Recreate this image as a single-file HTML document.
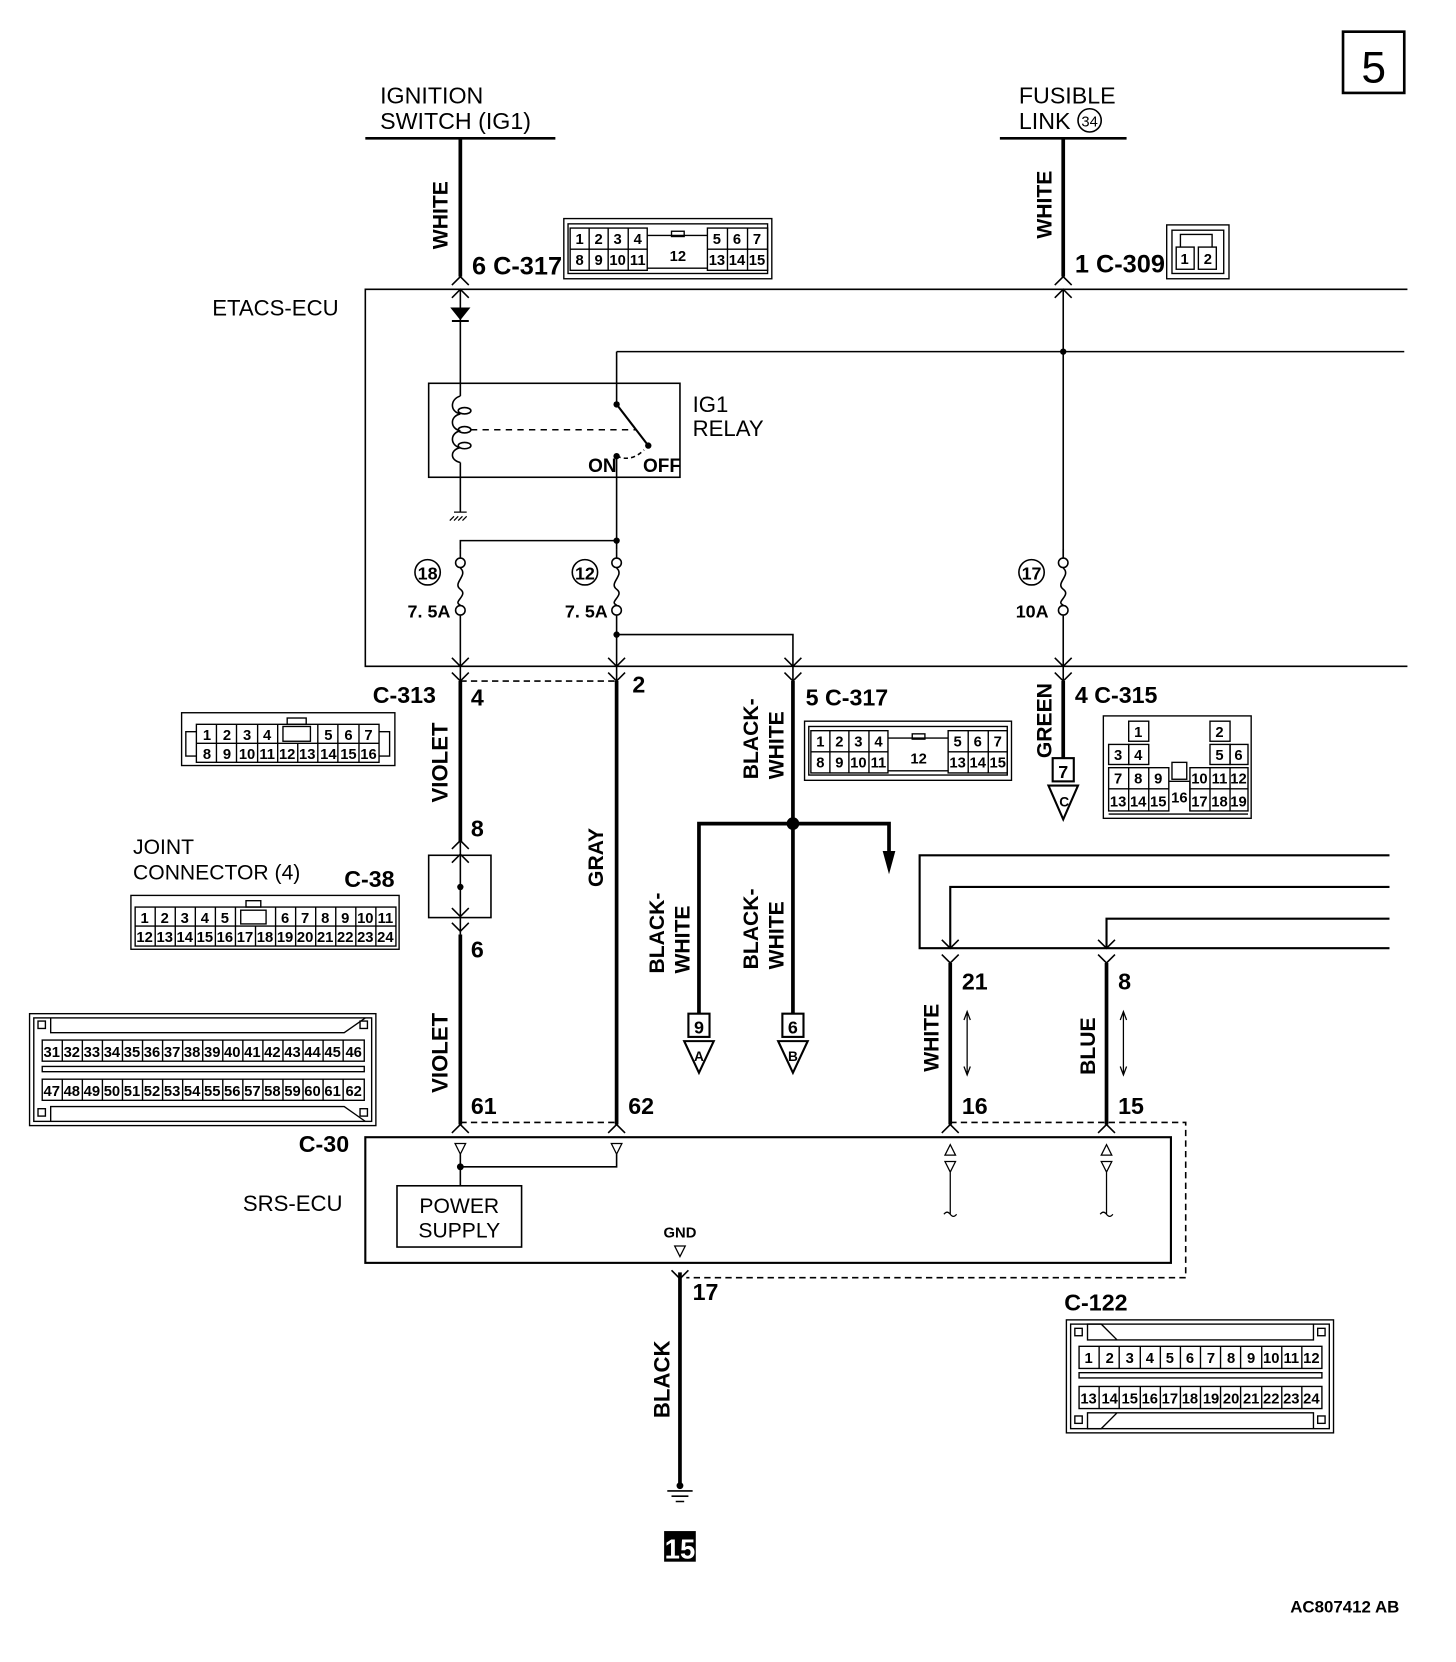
<!DOCTYPE html>
<html><head><meta charset="utf-8"><style>
html,body{margin:0;padding:0;background:#fff;}
svg{display:block;}
text{font-family:"Liberation Sans Narrow","Liberation Sans",sans-serif;fill:#000;}
.b{font-weight:bold;}
.n{font-family:"Liberation Sans Narrow","Liberation Sans",sans-serif;font-weight:bold;font-size:14px;text-anchor:middle;}
.r{font-family:"Liberation Sans",sans-serif;font-weight:normal;}
</style></head><body>
<svg width="1456" height="1662" viewBox="0 0 1379 1574" preserveAspectRatio="none" xmlns="http://www.w3.org/2000/svg">
<g fill="none" stroke="#000" stroke-width="1.5">
<!-- box 5 -->
<rect x="1272" y="30" width="58" height="58" stroke-width="2.5"/>
<!-- top source lines -->
<line x1="346" y1="131" x2="526" y2="131" stroke-width="2.5"/>
<line x1="947" y1="131" x2="1067" y2="131" stroke-width="2.5"/>
<line x1="436" y1="131" x2="436" y2="262" stroke-width="3.5"/>
<line x1="1007" y1="131" x2="1007" y2="262" stroke-width="3.5"/>
<!-- connector marks top -->
<path d="M428,270 L436,262 L444,270 M428,282 L436,274 L444,282"/>
<path d="M999,270 L1007,262 L1015,270 M999,282 L1007,274 L1015,282"/>
<!-- ETACS box -->
<path d="M1333,274 H346 V631 H1333"/>
<!-- diode -->
<line x1="436" y1="274" x2="436" y2="363"/>
<path d="M428,292 H444 L436,302 Z" fill="#000"/>
<line x1="428" y1="304" x2="444" y2="304" stroke-width="2"/>
<!-- relay box -->
<rect x="406" y="363" width="238" height="89"/>
<path d="M436,375 C426,378 426,390 436,392 C426,394 426,406 436,408 C426,410 426,422 436,424 C426,426 426,436 436,438" />
<ellipse cx="440" cy="389" rx="6" ry="3"/><ellipse cx="440" cy="407" rx="6" ry="3"/><ellipse cx="440" cy="422" rx="6" ry="3"/>
<line x1="436" y1="363" x2="436" y2="375"/>
<line x1="436" y1="438" x2="436" y2="485"/>
<path d="M430,485 H442 M430,489 L426,493 M434,489 L430,493 M438,489 L434,493 M442,489 L438,493" stroke-width="1.2"/>
<line x1="446" y1="407" x2="603" y2="407" stroke-dasharray="6,5"/>
<line x1="584" y1="333" x2="584" y2="383"/>
<line x1="1330" y1="333" x2="584" y2="333"/>
<line x1="584" y1="383" x2="614" y2="422" stroke-width="2"/>
<path d="M584,432 Q598,438 610,426" stroke-dasharray="4,3"/>
<line x1="584" y1="432" x2="584" y2="520"/>
<!-- right wire -->
<line x1="1007" y1="274" x2="1007" y2="530"/>
<!-- junction to 18 -->
<path d="M436,520 V512 H584"/>
<!-- fuses -->
<g id="f">
<circle cx="436" cy="533" r="4.5" fill="#fff"/>
<path d="M436,538 C444,545 428,552 436,558 C444,564 428,570 436,573"/>
<circle cx="436" cy="578" r="4.5" fill="#fff"/>
</g>
<use href="#f" x="148"/>
<use href="#f" x="571"/>
<line x1="436" y1="520" x2="436" y2="528"/>
<line x1="584" y1="520" x2="584" y2="528"/>
<line x1="1007" y1="520" x2="1007" y2="528"/>
<line x1="436" y1="583" x2="436" y2="645"/>
<line x1="584" y1="583" x2="584" y2="645"/>
<line x1="1007" y1="583" x2="1007" y2="645"/>
<path d="M584,601 H751 V645"/>
<!-- connector marks at 631 -->
<path d="M428,623 L436,631 L444,623 M428,637 L436,645 L444,637"/>
<path d="M576,623 L584,631 L592,623 M576,637 L584,645 L592,637"/>
<path d="M743,623 L751,631 L759,623 M743,637 L751,645 L759,637"/>
<path d="M999,623 L1007,631 L1015,623 M999,637 L1007,645 L1015,637"/>
<line x1="436" y1="645" x2="584" y2="645" stroke-dasharray="6,4"/>
<!-- thick wires -->
<line x1="436" y1="645" x2="436" y2="798" stroke-width="3.5"/>
<line x1="436" y1="885" x2="436" y2="1065" stroke-width="3.5"/>
<line x1="584" y1="645" x2="584" y2="1065" stroke-width="3.5"/>
<line x1="751" y1="645" x2="751" y2="960" stroke-width="3.5"/>
<path d="M662,960 V780 H842 V808" stroke-width="3.5"/>
<line x1="1007" y1="645" x2="1007" y2="718" stroke-width="3.5"/>
<!-- joint connector -->
<rect x="406" y="810" width="59" height="59"/>
<line x1="436" y1="798" x2="436" y2="885"/>
<path d="M428,804 L436,796 L444,804 M428,817 L436,809 L444,817 M428,860 L436,868 L444,860 M428,874 L436,882 L444,874"/>
<!-- boxes 9 6 7 -->
<rect x="652" y="960" width="20" height="22" stroke-width="2"/>
<rect x="741" y="960" width="20" height="22" stroke-width="2"/>
<rect x="997" y="718" width="20" height="22" stroke-width="2"/>
<path d="M648,986 H676 L662,1016 Z" stroke-width="2"/>
<path d="M737,986 H765 L751,1016 Z" stroke-width="2"/>
<path d="M993,744 H1021 L1007,776 Z" stroke-width="2"/>
<!-- bundle -->
<path d="M1316,810 H871 V898 H1316" stroke-width="2"/>
<path d="M1316,840 H900 V898" stroke-width="2"/>
<path d="M1316,870 H1048 V898" stroke-width="2"/>
<path d="M892,890 L900,898 L908,890 M892,904 L900,912 L908,904"/>
<path d="M1040,890 L1048,898 L1056,890 M1040,904 L1048,912 L1056,904"/>
<line x1="900" y1="912" x2="900" y2="1065" stroke-width="3.5"/>
<line x1="1048" y1="912" x2="1048" y2="1065" stroke-width="3.5"/>
<path d="M916,960 V1016 M913,966 L916,958 L919,966 M913,1010 L916,1018 L919,1010" stroke-width="1.2"/>
<path d="M1064,960 V1016 M1061,966 L1064,958 L1067,966 M1061,1010 L1064,1018 L1067,1010" stroke-width="1.2"/>
<!-- lower connector marks -->
<path d="M428,1073 L436,1065 L444,1073 M576,1073 L584,1065 L592,1073 M892,1073 L900,1065 L908,1073 M1040,1073 L1048,1065 L1056,1073"/>
<path d="M436,1063 H584 M900,1063 H1123 V1210 H650" stroke-dasharray="6,4"/>
<!-- SRS box -->
<rect x="346" y="1077" width="763" height="119" stroke-width="2"/>
<path d="M431,1083 H441 L436,1093 Z M579,1083 H589 L584,1093 Z M639,1180 H649 L644,1190 Z" stroke-width="1.2"/>
<path d="M436,1093 V1123 M436,1105 H584 V1093"/>
<circle cx="436" cy="1105" r="2.5" fill="#000"/>
<rect x="376" y="1123" width="118" height="58"/>
<path d="M900,1084 L895,1094 H905 Z M895,1100 H905 L900,1110 Z M900,1110 V1150 M894,1150 Q897,1146 900,1150 Q903,1154 906,1150" stroke-width="1.2"/>
<path d="M1048,1084 L1043,1094 H1053 Z M1043,1100 H1053 L1048,1110 Z M1048,1110 V1150 M1042,1150 Q1045,1146 1048,1150 Q1051,1154 1054,1150" stroke-width="1.2"/>
<!-- ground -->
<path d="M636,1203 L644,1211 L652,1203"/>
<line x1="644" y1="1205" x2="644" y2="1405" stroke-width="3.5"/>
<path d="M632,1412 H656 M636,1417 H652 M640,1422 H648"/>
<circle cx="644" cy="1407" r="2.5" fill="#000"/>
</g>
<!-- dots & arrows -->
<g fill="#000">
<circle cx="1007" cy="333" r="3"/>
<circle cx="584" cy="383" r="3"/><circle cx="614" cy="422" r="3"/><circle cx="584" cy="432" r="3"/>
<circle cx="584" cy="512" r="3"/><circle cx="584" cy="601" r="3"/>
<circle cx="751" cy="780" r="6"/>
<circle cx="436" cy="840" r="3"/>
<path d="M836,806 H848 L842,828 Z"/>
<rect x="629" y="1450" width="30" height="29"/>
</g>
<!-- texts -->
<text x="1301" y="78" class="r" font-size="42" text-anchor="middle">5</text>
<text x="360" y="98" class="r" font-size="22">IGNITION</text>
<text x="360" y="122" class="r" font-size="22">SWITCH (IG1)</text>
<text x="965" y="98" class="r" font-size="22">FUSIBLE</text>
<text x="965" y="122" class="r" font-size="22">LINK</text>
<circle cx="1032" cy="114" r="11" fill="none" stroke="#000" stroke-width="1.5"/>
<text x="1032" y="120" class="r" font-size="14" text-anchor="middle">34</text>
<text x="201" y="299" class="r" font-size="21">ETACS-ECU</text>
<text x="656" y="390" class="r" font-size="21">IG1</text>
<text x="656" y="413" class="r" font-size="21">RELAY</text>
<text x="557" y="447" class="b" font-size="18">ON</text>
<text x="609" y="447" class="b" font-size="18">OFF</text>
<text x="447" y="260" class="b" font-size="24">6 C-317</text>
<text x="1018" y="258" class="b" font-size="24">1 C-309</text>
<text transform="translate(424,236) rotate(-90)" class="b" font-size="20">WHITE</text>
<text transform="translate(996,226) rotate(-90)" class="b" font-size="20">WHITE</text>
<g fill="none" stroke="#000" stroke-width="1.5"><circle cx="405" cy="542" r="12"/><circle cx="554" cy="542" r="12"/><circle cx="977" cy="542" r="12"/></g>
<text x="405" y="549" class="b" font-size="17" text-anchor="middle">18</text>
<text x="554" y="549" class="b" font-size="17" text-anchor="middle">12</text>
<text x="977" y="549" class="b" font-size="17" text-anchor="middle">17</text>
<text x="386" y="585" class="b" font-size="17">7. 5A</text>
<text x="535" y="585" class="b" font-size="17">7. 5A</text>
<text x="962" y="585" class="b" font-size="17">10A</text>
<text x="353" y="666" class="b" font-size="22">C-313</text>
<text x="446" y="668" class="b" font-size="22">4</text>
<text x="599" y="656" class="b" font-size="22">2</text>
<text x="763" y="668" class="b" font-size="22">5 C-317</text>
<text x="1018" y="666" class="b" font-size="22">4 C-315</text>
<text transform="translate(424,760) rotate(-90)" class="b" font-size="21">VIOLET</text>
<text transform="translate(424,1035) rotate(-90)" class="b" font-size="21">VIOLET</text>
<text transform="translate(571,840) rotate(-90)" class="b" font-size="20">GRAY</text>
<text transform="translate(718,738) rotate(-90)" class="b" font-size="20">BLACK-</text>
<text transform="translate(742,738) rotate(-90)" class="b" font-size="20">WHITE</text>
<text transform="translate(629,922) rotate(-90)" class="b" font-size="20">BLACK-</text>
<text transform="translate(653,922) rotate(-90)" class="b" font-size="20">WHITE</text>
<text transform="translate(718,918) rotate(-90)" class="b" font-size="20">BLACK-</text>
<text transform="translate(742,918) rotate(-90)" class="b" font-size="20">WHITE</text>
<text transform="translate(996,718) rotate(-90)" class="b" font-size="20">GREEN</text>
<text transform="translate(889,1015) rotate(-90)" class="b" font-size="20">WHITE</text>
<text transform="translate(1037,1018) rotate(-90)" class="b" font-size="20">BLUE</text>
<text x="446" y="792" class="b" font-size="22">8</text>
<text x="446" y="907" class="b" font-size="22">6</text>
<text x="662" y="979" class="b" font-size="17" text-anchor="middle">9</text>
<text x="751" y="979" class="b" font-size="17" text-anchor="middle">6</text>
<text x="1007" y="737" class="b" font-size="17" text-anchor="middle">7</text>
<text x="662" y="1005" class="b" font-size="13" text-anchor="middle">A</text>
<text x="751" y="1005" class="b" font-size="13" text-anchor="middle">B</text>
<text x="1008" y="764" class="b" font-size="13" text-anchor="middle">C</text>
<text x="911" y="937" class="b" font-size="22">21</text>
<text x="1059" y="937" class="b" font-size="22">8</text>
<text x="446" y="1055" class="b" font-size="22">61</text>
<text x="595" y="1055" class="b" font-size="22">62</text>
<text x="911" y="1055" class="b" font-size="22">16</text>
<text x="1059" y="1055" class="b" font-size="22">15</text>
<text x="283" y="1091" class="b" font-size="22">C-30</text>
<text x="230" y="1147" class="r" font-size="21">SRS-ECU</text>
<text x="435" y="1149" class="r" font-size="20" text-anchor="middle">POWER</text>
<text x="435" y="1172" class="r" font-size="20" text-anchor="middle">SUPPLY</text>
<text x="644" y="1172" class="b" font-size="14" text-anchor="middle">GND</text>
<text x="656" y="1231" class="b" font-size="22">17</text>
<text transform="translate(634,1343) rotate(-90)" class="b" font-size="21">BLACK</text>
<text x="644" y="1476" class="b" font-size="26" text-anchor="middle" style="fill:#fff">15</text>
<text x="1008" y="1241" class="b" font-size="22">C-122</text>
<text x="126" y="809" class="r" font-size="20">JOINT</text>
<text x="126" y="833" class="r" font-size="20">CONNECTOR (4)</text>
<text x="326" y="840" class="b" font-size="22">C-38</text>
<text x="1222" y="1527" font-family="Liberation Sans" font-weight="bold" font-size="16">AC807412 AB</text>

<!-- Connector C-317 top -->
<g fill="none" stroke="#000" stroke-width="1.3">
<rect x="534" y="207" width="197" height="57"/>
<rect x="538" y="212" width="189" height="47"/>
<path d="M540,216 H613 V256 H540 Z M540,236 H613 M558,216 V256 M576,216 V256 M595,216 V256"/>
<path d="M670,216 H727 V256 H670 Z M670,236 H727 M689,216 V256 M708,216 V256"/>
<path d="M613,223 H670 M613,254 H670"/>
<rect x="636" y="219" width="12" height="5"/>
</g>
<g class="n"><text class="n" x="549" y="231">1</text><text class="n" x="567" y="231">2</text><text class="n" x="585" y="231">3</text><text class="n" x="604" y="231">4</text><text class="n" x="679" y="231">5</text><text class="n" x="698" y="231">6</text><text class="n" x="717" y="231">7</text>
<text class="n" x="549" y="251">8</text><text class="n" x="567" y="251">9</text><text class="n" x="585" y="251">10</text><text class="n" x="604" y="251">11</text><text class="n" x="642" y="247">12</text><text class="n" x="679" y="251">13</text><text class="n" x="698" y="251">14</text><text class="n" x="717" y="251">15</text></g>

<!-- Connector C-317 lower -->
<g fill="none" stroke="#000" stroke-width="1.3">
<rect x="762" y="683" width="196" height="56"/>
<rect x="766" y="688" width="188" height="46"/>
<path d="M768,692 H841 V732 H768 Z M768,712 H841 M786,692 V732 M804,692 V732 M823,692 V732"/>
<path d="M898,692 H954 V732 H898 Z M898,712 H954 M917,692 V732 M936,692 V732"/>
<path d="M841,699 H898 M841,730 H898"/>
<rect x="864" y="695" width="12" height="5"/>
</g>
<text class="n" x="777" y="707">1</text><text class="n" x="795" y="707">2</text><text class="n" x="813" y="707">3</text><text class="n" x="832" y="707">4</text><text class="n" x="907" y="707">5</text><text class="n" x="926" y="707">6</text><text class="n" x="945" y="707">7</text>
<text class="n" x="777" y="727">8</text><text class="n" x="795" y="727">9</text><text class="n" x="813" y="727">10</text><text class="n" x="832" y="727">11</text><text class="n" x="870" y="723">12</text><text class="n" x="907" y="727">13</text><text class="n" x="926" y="727">14</text><text class="n" x="945" y="727">15</text>

<!-- C-309 -->
<g fill="none" stroke="#000" stroke-width="1.3">
<rect x="1105" y="213" width="59" height="51"/>
<rect x="1110" y="218" width="49" height="41"/>
<rect x="1114" y="234" width="17" height="21"/><rect x="1135" y="234" width="17" height="21"/>
<path d="M1118,234 V222 H1148 V234"/>
</g>
<text class="n" x="1122" y="250">1</text><text class="n" x="1144" y="250">2</text>

<!-- C-313 -->
<g fill="none" stroke="#000" stroke-width="1.3">
<rect x="172" y="675" width="202" height="50"/>
<path d="M186,686 H359 V722 H186 Z M186,704 H359"/>
<path d="M205,686 V722 M224,686 V722 M244,686 V722 M263,686 V704 M263,704 V722 M282,704 V722 M301,686 V722 M320,686 V722 M340,686 V722"/>
<rect x="268" y="688" width="26" height="14"/>
<rect x="272" y="680" width="18" height="6"/>
<path d="M186,693 H176 V716 H186 M359,693 H369 V716 H359"/>
</g>
<text class="n" x="196" y="701">1</text><text class="n" x="215" y="701">2</text><text class="n" x="234" y="701">3</text><text class="n" x="253" y="701">4</text><text class="n" x="311" y="701">5</text><text class="n" x="330" y="701">6</text><text class="n" x="349" y="701">7</text>
<text class="n" x="196" y="719">8</text><text class="n" x="215" y="719">9</text><text class="n" x="234" y="719">10</text><text class="n" x="253" y="719">11</text><text class="n" x="272" y="719">12</text><text class="n" x="291" y="719">13</text><text class="n" x="311" y="719">14</text><text class="n" x="330" y="719">15</text><text class="n" x="349" y="719">16</text>

<!-- C-38 -->
<g fill="none" stroke="#000" stroke-width="1.3">
<rect x="124" y="848" width="254" height="51"/>
<path d="M128,859 H375 V896 H128 Z M128,877 H375"/>
<path d="M147,859 V896 M166,859 V896 M185,859 V896 M204,859 V896 M223,859 V896 M242,877 V896 M261,859 V896 M280,859 V896 M299,859 V896 M318,859 V896 M337,859 V896 M356,859 V896"/>
<rect x="228" y="862" width="24" height="13"/>
<rect x="233" y="853" width="14" height="6"/>
</g>
<text class="n" x="137" y="874">1</text><text class="n" x="156" y="874">2</text><text class="n" x="175" y="874">3</text><text class="n" x="194" y="874">4</text><text class="n" x="213" y="874">5</text><text class="n" x="270" y="874">6</text><text class="n" x="289" y="874">7</text><text class="n" x="308" y="874">8</text><text class="n" x="327" y="874">9</text><text class="n" x="346" y="874">10</text><text class="n" x="365" y="874">11</text>
<text class="n" x="137" y="892">12</text><text class="n" x="156" y="892">13</text><text class="n" x="175" y="892">14</text><text class="n" x="194" y="892">15</text><text class="n" x="213" y="892">16</text><text class="n" x="232" y="892">17</text><text class="n" x="251" y="892">18</text><text class="n" x="270" y="892">19</text><text class="n" x="289" y="892">20</text><text class="n" x="308" y="892">21</text><text class="n" x="327" y="892">22</text><text class="n" x="346" y="892">23</text><text class="n" x="365" y="892">24</text>

<!-- C-30 -->
<g fill="none" stroke="#000" stroke-width="1.3">
<rect x="28" y="960" width="328" height="106"/>
<rect x="32" y="964" width="320" height="98"/>
<rect x="36" y="967" width="7" height="7"/><rect x="341" y="967" width="7" height="7"/>
<rect x="36" y="1050" width="7" height="7"/><rect x="341" y="1050" width="7" height="7"/>
<path d="M48,964 V978 H326 L346,964 M48,1062 V1048 H326 L346,1062"/>
<path d="M40,985 H345 V1005 H40 Z M40,1022 H345 V1042 H40 Z M40,1010 H345 V1015 H40 Z"/>
<path d="M59,985 V1005 M78,985 V1005 M97,985 V1005 M116,985 V1005 M135,985 V1005 M154,985 V1005 M173,985 V1005 M192,985 V1005 M211,985 V1005 M230,985 V1005 M249,985 V1005 M268,985 V1005 M287,985 V1005 M306,985 V1005 M325,985 V1005"/>
<path d="M59,1022 V1042 M78,1022 V1042 M97,1022 V1042 M116,1022 V1042 M135,1022 V1042 M154,1022 V1042 M173,1022 V1042 M192,1022 V1042 M211,1022 V1042 M230,1022 V1042 M249,1022 V1042 M268,1022 V1042 M287,1022 V1042 M306,1022 V1042 M325,1022 V1042"/>
</g>
<text class="n" x="49" y="1001">31</text><text class="n" x="68" y="1001">32</text><text class="n" x="87" y="1001">33</text><text class="n" x="106" y="1001">34</text><text class="n" x="125" y="1001">35</text><text class="n" x="144" y="1001">36</text><text class="n" x="163" y="1001">37</text><text class="n" x="182" y="1001">38</text><text class="n" x="201" y="1001">39</text><text class="n" x="220" y="1001">40</text><text class="n" x="239" y="1001">41</text><text class="n" x="258" y="1001">42</text><text class="n" x="277" y="1001">43</text><text class="n" x="296" y="1001">44</text><text class="n" x="315" y="1001">45</text><text class="n" x="335" y="1001">46</text>
<text class="n" x="49" y="1038">47</text><text class="n" x="68" y="1038">48</text><text class="n" x="87" y="1038">49</text><text class="n" x="106" y="1038">50</text><text class="n" x="125" y="1038">51</text><text class="n" x="144" y="1038">52</text><text class="n" x="163" y="1038">53</text><text class="n" x="182" y="1038">54</text><text class="n" x="201" y="1038">55</text><text class="n" x="220" y="1038">56</text><text class="n" x="239" y="1038">57</text><text class="n" x="258" y="1038">58</text><text class="n" x="277" y="1038">59</text><text class="n" x="296" y="1038">60</text><text class="n" x="315" y="1038">61</text><text class="n" x="335" y="1038">62</text>

<!-- C-315 -->
<g fill="none" stroke="#000" stroke-width="1.3">
<rect x="1045" y="678" width="140" height="97"/>
<rect x="1069" y="683" width="19" height="19"/><rect x="1146" y="683" width="19" height="19"/>
<rect x="1050" y="705" width="19" height="19"/><rect x="1069" y="705" width="19" height="19"/><rect x="1146" y="705" width="19" height="19"/><rect x="1165" y="705" width="17" height="19"/>
<path d="M1050,727 H1107 V768 H1050 Z M1050,747 H1107 M1069,727 V768 M1088,727 V768"/>
<path d="M1127,727 H1182 V768 H1127 Z M1127,747 H1182 M1146,727 V768 M1165,727 V768"/>
<path d="M1107,740 H1127 V768 M1050,771 H1182"/>
<rect x="1110" y="722" width="14" height="16"/>
</g>
<text class="n" x="1078" y="698">1</text><text class="n" x="1155" y="698">2</text>
<text class="n" x="1059" y="720">3</text><text class="n" x="1078" y="720">4</text><text class="n" x="1155" y="720">5</text><text class="n" x="1173" y="720">6</text>
<text class="n" x="1059" y="742">7</text><text class="n" x="1078" y="742">8</text><text class="n" x="1097" y="742">9</text><text class="n" x="1136" y="742">10</text><text class="n" x="1155" y="742">11</text><text class="n" x="1173" y="742">12</text>
<text class="n" x="1059" y="764">13</text><text class="n" x="1078" y="764">14</text><text class="n" x="1097" y="764">15</text><text class="n" x="1117" y="760">16</text><text class="n" x="1136" y="764">17</text><text class="n" x="1155" y="764">18</text><text class="n" x="1173" y="764">19</text>

<!-- C-122 -->
<g fill="none" stroke="#000" stroke-width="1.3">
<rect x="1010" y="1250" width="253" height="107"/>
<rect x="1014" y="1254" width="245" height="99"/>
<rect x="1018" y="1258" width="7" height="7"/><rect x="1248" y="1258" width="7" height="7"/>
<rect x="1018" y="1341" width="7" height="7"/><rect x="1248" y="1341" width="7" height="7"/>
<path d="M1030,1254 V1269 H1244 V1254 M1030,1269 V1254 H1043 L1058,1269"/>
<path d="M1030,1353 V1338 H1244 V1353 M1030,1338 V1353 H1043 L1058,1338"/>
<path d="M1022,1275 H1252 V1296 H1022 Z M1022,1313 H1252 V1334 H1022 Z M1022,1300 H1252 V1305 H1022 Z"/>
<path d="M1041,1275 V1296 M1060,1275 V1296 M1080,1275 V1296 M1099,1275 V1296 M1118,1275 V1296 M1137,1275 V1296 M1156,1275 V1296 M1175,1275 V1296 M1195,1275 V1296 M1214,1275 V1296 M1233,1275 V1296"/>
<path d="M1041,1313 V1334 M1060,1313 V1334 M1080,1313 V1334 M1099,1313 V1334 M1118,1313 V1334 M1137,1313 V1334 M1156,1313 V1334 M1175,1313 V1334 M1195,1313 V1334 M1214,1313 V1334 M1233,1313 V1334"/>
</g>
<text class="n" x="1031" y="1291">1</text><text class="n" x="1051" y="1291">2</text><text class="n" x="1070" y="1291">3</text><text class="n" x="1089" y="1291">4</text><text class="n" x="1108" y="1291">5</text><text class="n" x="1127" y="1291">6</text><text class="n" x="1147" y="1291">7</text><text class="n" x="1166" y="1291">8</text><text class="n" x="1185" y="1291">9</text><text class="n" x="1204" y="1291">10</text><text class="n" x="1223" y="1291">11</text><text class="n" x="1242" y="1291">12</text>
<text class="n" x="1031" y="1329">13</text><text class="n" x="1051" y="1329">14</text><text class="n" x="1070" y="1329">15</text><text class="n" x="1089" y="1329">16</text><text class="n" x="1108" y="1329">17</text><text class="n" x="1127" y="1329">18</text><text class="n" x="1147" y="1329">19</text><text class="n" x="1166" y="1329">20</text><text class="n" x="1185" y="1329">21</text><text class="n" x="1204" y="1329">22</text><text class="n" x="1223" y="1329">23</text><text class="n" x="1242" y="1329">24</text>
</svg>
</body></html>
